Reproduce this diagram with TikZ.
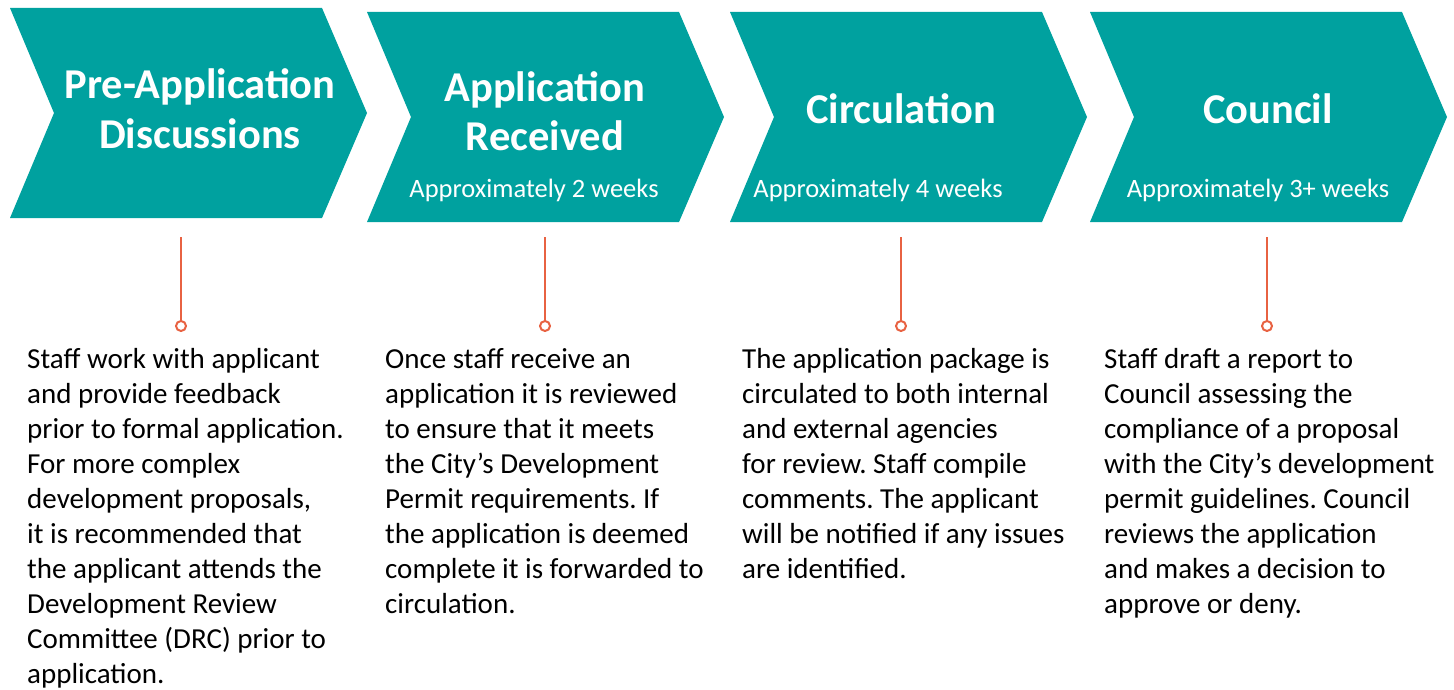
\documentclass[tikz,border=0pt]{standalone}
\usepackage{fontspec}
\setmainfont{Carlito}
\begin{document}
\frenchspacing
\begin{tikzpicture}[x=1pt,y=-1pt,
  stagefill/.style={fill=teal0},
  headtext/.style={text=white,font=\fontsize{42.5}{50}\selectfont\bfseries,align=center,anchor=base,inner sep=0pt},
  durtext/.style={text=white,font=\fontsize{26.5}{30}\selectfont,anchor=base,inner sep=0pt},
  bodytext/.style={text=black,font=\fontsize{29}{35}\selectfont\frenchspacing,align=left,anchor=base west,inner sep=0pt},
  stem/.style={draw=coral0,line width=2pt},
  knob/.style={circle,draw=coral0,fill=white,line width=2pt,minimum size=10pt,inner sep=0pt}]
\definecolor{teal0}{RGB}{0,161,159}
\definecolor{coral0}{RGB}{232,98,66}
\useasboundingbox (0,0) rectangle (1454,690);

% chevron: #1 = left x, #2 = top y
\newcommand{\chevronshape}[2]{%
  \fill[stagefill] (#1,#2) -- ++(312,0) -- ++(45,105) -- ++(-45,105) -- ++(-312,0) -- ++(44,-105) -- cycle;}
\chevronshape{10}{8}
\chevronshape{367}{12}
\chevronshape{730}{12}
\chevronshape{1090}{12}

% stage titles (a multi-line node sits on its last baseline)
\node[headtext] (t1) at (200,149) {Pre-Application\\Discussions};
\node[headtext] (t2) at (545,151) {Application\\Received};
\node[durtext]  (d2) at (534,197) {Approximately 2 weeks};
\node[headtext] (t3) at (901,124) {Circulation};
\node[durtext]  (d3) at (878,197) {Approximately 4 weeks};
\node[headtext] (t4) at (1268,124) {Council};
\node[durtext]  (d4) at (1258,197) {Approximately 3+ weeks};

% connectors from each stage to its description
\foreach \i/\x in {1/181,2/545,3/901,4/1267}{
  \coordinate (s\i) at (\x,237);
  \node[knob] (k\i) at (\x,326) {};
  \draw[stem] (s\i) -- (k\i.north);
}

% descriptions, placed by the baseline of their last line
\node[bodytext] (b1) at (27,683) {Staff work with applicant\\and provide feedback\\prior to formal application.\\For more complex\\development proposals,\\it is recommended that\\the applicant attends the\\Development Review\\Committee (DRC) prior to\\application.};
\node[bodytext] (b2) at (385,613) {Once staff receive an\\application it is reviewed\\to ensure that it meets\\the City’s Development\\Permit requirements. If\\the application is deemed\\complete it is forwarded to\\circulation.};
\node[bodytext] (b3) at (742,578) {The application package is\\circulated to both internal\\and external agencies\\for review. Staff compile\\comments. The applicant\\will be notified if any issues\\are identified.};
\node[bodytext] (b4) at (1104,613) {Staff draft a report to\\Council assessing the\\compliance of a proposal\\with the City’s development\\permit guidelines. Council\\reviews the application\\and makes a decision to\\approve or deny.};
\end{tikzpicture}
\end{document}
